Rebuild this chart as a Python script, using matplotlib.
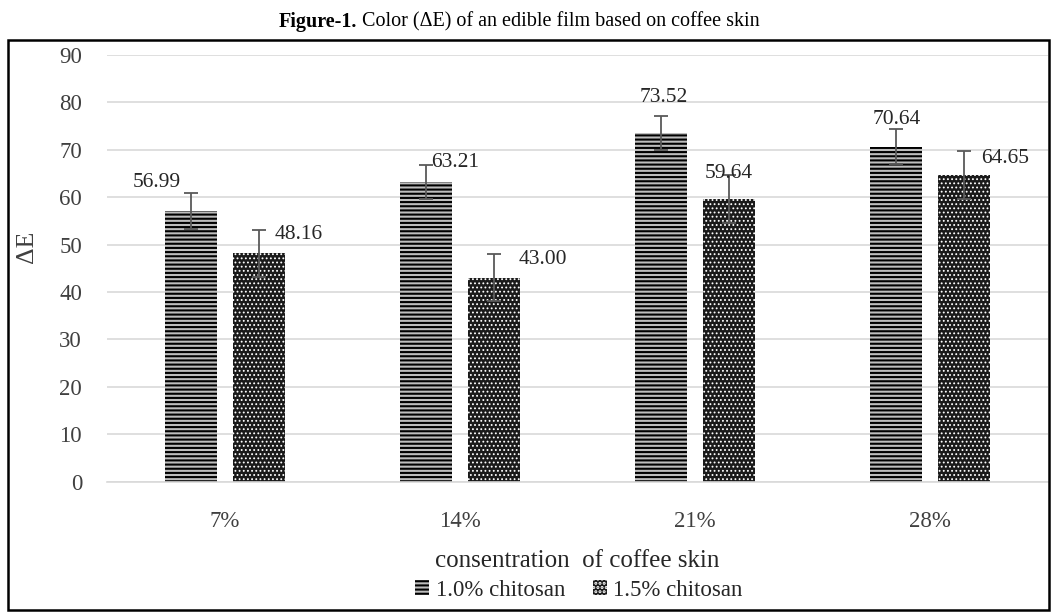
import matplotlib
matplotlib.use("Agg")
import matplotlib.pyplot as plt
import numpy as np
from matplotlib.patches import Rectangle, Patch

plt.rcParams['font.family'] = ['Liberation Serif', 'DejaVu Serif']
plt.rcParams['hatch.linewidth'] = 1.5

categories = ["7%", "14%", "21%", "28%"]
series_names = ["1.0% chitosan", "1.5% chitosan"]
chitosan_10 = [56.99, 63.21, 73.52, 70.64]
chitosan_15 = [48.16, 43.00, 59.64, 64.65]
err_10 = [3.8, 3.5, 3.6, 3.7]
err_15 = [5.0, 5.0, 5.0, 5.0]
labels_10 = ["56.99", "63.21", "73.52", "70.64"]
labels_15 = ["48.16", "43.00", "59.64", "64.65"]
yticks = [0, 10, 20, 30, 40, 50, 60, 70, 80, 90]

# label offsets in pixels relative to bar top (layout)
off_10 = [(-34, 29), (29, 19), (3, 36), (0, 27)]
off_15 = [(40, 19), (49, 18), (0, 25), (41, 17)]

W, H = 1051, 612
fig = plt.figure(figsize=(W / 100, H / 100), dpi=100)
ax = fig.add_axes([107 / W, 1 - 481.5 / H, (1048 - 107) / W, (481.5 - 55) / H])

x = np.arange(len(categories))
bw = 0.221
off = 0.1445

b1 = ax.bar(x - off, chitosan_10, bw, facecolor='#bdbdbd', edgecolor='black',
            hatch='----', linewidth=0.0, zorder=2)
with plt.rc_context({'hatch.linewidth': 0.8}):
    b2 = ax.bar(x + off, chitosan_15, bw, facecolor='#1a1a1a', edgecolor='white',
                hatch='....', linewidth=0.0, zorder=2)
    h2 = Patch(facecolor='#1a1a1a', edgecolor='white', hatch='....', linewidth=0)
h1 = Patch(facecolor='#bdbdbd', edgecolor='black', hatch='----', linewidth=0)

ax.errorbar(x - off, chitosan_10, yerr=err_10, fmt='none', ecolor='#595959',
            elinewidth=1.3, capsize=5, capthick=1.3, zorder=3)
ax.errorbar(x + off, chitosan_15, yerr=err_15, fmt='none', ecolor='#595959',
            elinewidth=1.3, capsize=5, capthick=1.3, zorder=3)

for xi, v, lab, (dx, dy) in zip(x - off, chitosan_10, labels_10, off_10):
    ax.annotate(lab, xy=(xi, v), xytext=(dx, dy), textcoords='offset pixels',
                ha='center', va='center', fontsize=15.5, color='#262626', zorder=4)
for xi, v, lab, (dx, dy) in zip(x + off, chitosan_15, labels_15, off_15):
    ax.annotate(lab, xy=(xi, v), xytext=(dx, dy), textcoords='offset pixels',
                ha='center', va='center', fontsize=15.5, color='#262626', zorder=4)

ax.set_xlim(-0.5, len(categories) - 0.5)
ax.set_ylim(0, 90)
ax.set_yticks(yticks)
ax.set_xticks(x)
ax.set_xticklabels(categories)
ax.tick_params(axis='both', length=0, labelsize=16.5, colors='#404040')
ax.tick_params(axis='y', pad=18)
ax.tick_params(axis='x', pad=21)
ax.yaxis.grid(True, color='#d9d9d9', linewidth=1.2, zorder=0)
ax.set_axisbelow(True)
for s in ['top', 'right', 'left']:
    ax.spines[s].set_visible(False)
ax.spines['bottom'].set_color('#d9d9d9')
ax.spines['bottom'].set_linewidth(1.2)

# axis titles
fig.text(27 / W, 1 - 247 / H, "ΔE", rotation=90, ha='center', va='center',
         fontsize=18.5, color='#404040')
fig.text(577 / W, 1 - 561 / H, "consentration  of coffee skin", ha='center',
         va='center', fontsize=18, color='#262626')

# legend
fig.legend([h1, h2], series_names, loc='center', bbox_to_anchor=(579 / W, 1 - 590 / H),
           ncol=2, frameon=False, fontsize=16.5, handlelength=0.6, handleheight=0.6,
           handletextpad=0.3, columnspacing=1.2, labelcolor='#262626')

# title
t1 = fig.text(279 / W, 1 - 22 / H, "Figure-1.", fontweight='bold', ha='left',
              va='center', fontsize=14.5)
ax.annotate(" Color (ΔE) of an edible film based on coffee skin", xy=(1, 0.5),
            xycoords=t1, ha='left', va='center', fontsize=14.5,
            annotation_clip=False)

# frame
fig.patches.append(Rectangle((8 / W, 1 - 610 / H), (1049 - 8) / W, (610 - 40) / H,
                             transform=fig.transFigure, fill=False,
                             edgecolor='black', linewidth=1.8))

fig.savefig("out.png", dpi=100)
